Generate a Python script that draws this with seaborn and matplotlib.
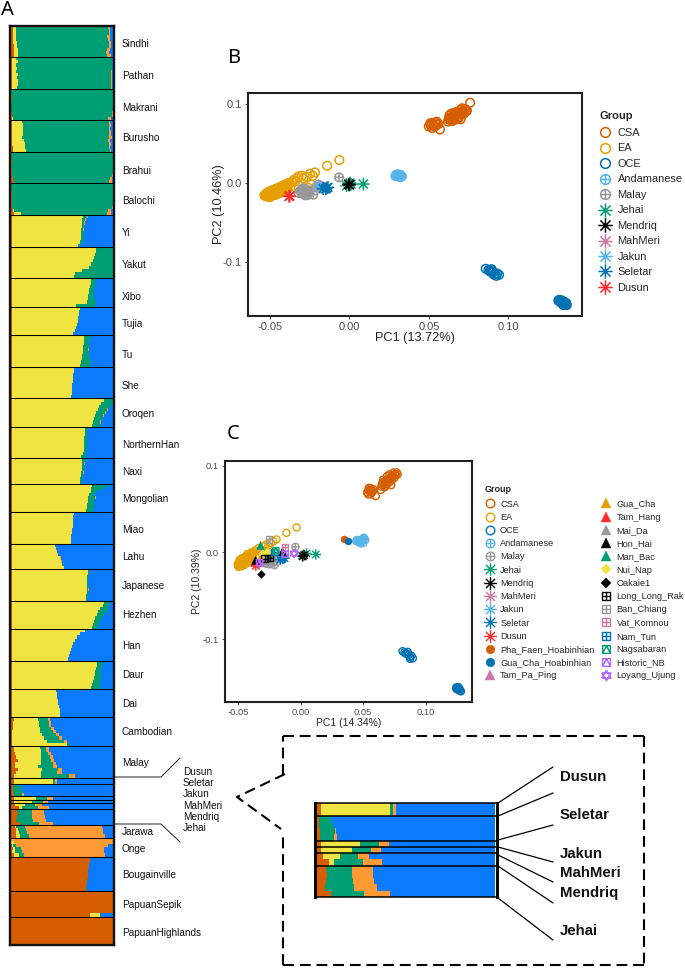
"""Ancestry bars (panel A) and two PCA panels (B, C) with the zoomed Orang Asli inset."""
import numpy as np
import pandas as pd
import matplotlib
matplotlib.use("Agg")
import matplotlib.pyplot as plt
from matplotlib.lines import Line2D
from matplotlib.path import Path
import seaborn as sns

W, H = 685, 968

# ---- panel A, one row per individual: brown, yellow, green, orange (blue is the rest)
sindhi = [[1.5,3,90.5,1.5],[2,2.5,91,1.5],[2,3,91,1],[2,3,89,2.5],[2,3,89.5,2],[2,3.5,90.5,1.5],[2.5,3,90,2],[2.5,3.5,88,2.5],[3,3,87.5,2.5],[3,3.5,87.5,3.5]]
pathan = [[0.5,4,94,0.5],[0.5,5.5,92.5,0.5],[0.5,4.5,93.5,0.5],[0.5,5,93,0.5],[0.5,4.5,93,1],[0.5,6,91.5,1],[0.5,5,92.5,1],[0.5,5.5,91.5,1.5],[1,5,91.5,1.5],[1,4.5,92.5,1]]
makrani = [[0,0,100,0],[0,0,100,0],[0.5,0,99.5,0],[0.5,0,99.5,0],[0,0,100,0],[0,0,100,0],[0,0,100,0],[0.5,0,98.5,1],[0.5,0,98,1],[1,1,93,2.5]]
burusho = [[0.5,10,85.5,1],[0.5,10.5,85,1.5],[0.5,10.5,85,1],[0.5,10.5,85,2],[0.5,10.5,84.5,2.5],[0.5,9.5,85.5,3],[0.5,11.5,83,2],[1,12,83,1.5],[1.5,12,82.5,1],[1.5,13,82.5,0.5]]
brahui = [[0,0,100,0],[0,0,100,0],[0.5,0,99.5,0],[0.5,0,99.5,0],[0,0,100,0],[0.5,0,99.5,0],[0.5,0,99,0.5],[1,0,98,1],[2,0,95,1.5],[3,0,93,2.5]]
balochi = [[0,0,100,0],[0,0,100,0],[0.5,0,99.5,0],[0.5,0,99.5,0],[0.5,0,99.5,0],[0.5,0,99.5,0],[0.5,0,99,0.5],[1,0,97.5,1],[2,1,92,3],[3,6,85,3.5]]
yi = [[0.8,69.5,4.5,0.5],[0.8,69,3,0.5],[0.8,68.6,2.3,0.5],[0.8,68.2,2,0.5],[0.8,68,2,0.5],[0.8,68,2.3,0.5],[0.8,67.6,2.6,0.5],[0.8,67.2,3,0.5],[0.8,67,2.6,0],[0.8,64.4,1.3,0]]
yakut = [[0.8,82.2,17,0],[0.8,82,17.2,0],[0.8,81,18.2,0],[0.8,80,19.2,0],[0.8,79,20.2,0],[0.8,77.5,21.7,0],[0.8,75.5,23.7,0],[0.8,69,30.2,0],[0.8,62,37.2,0],[0.8,61,38.2,0]]
xibo = [[0.5,78,5.5,0],[0.5,77.5,4.5,0],[0.5,77,4.5,0],[0.5,76,5,0],[0.5,75.5,5.5,0],[0.5,75,6,0],[0.5,74.5,6.5,0],[0.5,74,8.5,0],[0.5,63,19,0]]
tujia = [[0.5,66.5,0,0],[0.5,66,0.5,0],[0.5,65.5,0.5,0],[0.5,65,0.5,0],[0.5,64.5,0.5,0],[0.5,64,0.5,0],[0.5,63,0,0],[0.5,62,0,0],[0.5,60.5,0,0]]
tu = [[0.8,71,6,0],[0.8,71,5.5,0],[0.8,70.5,5,0],[0.8,70,5.5,0],[0.8,70,5,0.3],[0.8,69.5,6,0],[0.8,69,6.5,0],[0.8,68.5,7.5,0.5],[0.8,68,9,0.5],[0.8,66.5,10,0]]
she = [[0.3,61,0,0],[0.3,61,0,0],[0.3,60.5,0,0],[0.3,60.5,0,0],[0.3,60,0,0],[0.3,59.5,0,0],[0.3,59,0,0],[0.3,59,0,0],[0.3,59,0,0],[0.3,58.5,0,0]]
oroqen = [[1,90,9,0],[1,87,12,0],[1,85,11,0],[1,84,9,0.5],[1,82.5,9,0.5],[1,81.5,8,0.5],[1,80.5,7.5,0.5],[1,79.5,7,0.5],[1,78,8,0.5]]
northernhan = [[0.5,72,2,0],[0.5,72,2,0],[0.5,71.5,2.5,0],[0.5,71,3,0],[0.5,71,2.5,0],[0.5,71,2.5,0],[0.5,70.5,3,0],[0.5,70.5,2.5,0],[0.5,70,3,0],[0.5,67.5,4,0]]
naxi = [[1,68.5,2.5,0.5],[1,68.5,2,0.5],[1,68,2,0.5],[1,68,2,0],[1,67.5,2,0.5],[1,67.5,2,0],[1,66.5,2,0],[1,66,2,0]]
mongolian = [[0.5,78.5,17,0],[0.5,78,12,0],[0.5,77.5,6,0],[0.5,76,5,0],[0.5,75,7,0.5],[0.5,74.5,6,0],[0.5,74,7,0],[0.5,73.5,7.5,0],[0.5,72.5,7,0]]
miao = [[0.3,61,0,0],[0.3,60.5,0,0],[0.3,60.5,0,0],[0.3,60,0,0],[0.3,60,0,0],[0.3,59.5,0,0],[0.3,59,0,0],[0.3,58.5,0,0],[0.3,58,0,0],[0.3,58,0,0]]
lahu = [[0.3,43,0,0],[0.3,44,0,0],[0.3,45,0,0],[0.3,46,0,0],[0.3,47,0.5,0.5],[0.3,48,0.5,0.5],[0.3,49.5,0.5,0],[0.3,51.5,0,0]]
japanese = [[0.5,74.5,1,0.5],[0.5,74.5,1,0],[0.5,74,1.5,0],[0.5,74,1,0],[0.5,74,1,0],[0.5,73.5,1.5,0],[0.5,73.5,1.5,0.5],[0.5,73.5,1,0],[0.5,73,1.5,0],[0.5,73,1,0]]
hezhen = [[1,90,5.5,0],[1,89,6,0],[1,86,8,0],[1,84,9,0],[1,83,7,0.5],[1,81,7,0],[1,80,6.5,0],[1,79,6.5,0],[1,78.5,6,0]]
han = [[0.5,72,0,0],[0.5,67,0,0],[0.5,64,0,0],[0.5,62,0,0],[0.5,60,0,0],[0.5,59,0,0],[0.5,58,0,0],[0.5,57,0,0],[0.5,56.5,0,0],[0.5,55.5,0,0]]
daur = [[1,83,6,0],[1,83,5,0],[1,82,5,0],[1,81.5,5.5,0],[1,81,6,0],[1,80.5,6.5,0],[1,79,7.5,0],[1,78,9,0],[1,77,9.5,0]]
dai = [[0.3,44,0,0],[0.3,44.5,0,0],[0.3,45,0,0],[0.3,45.5,0,0],[0.3,46,0,0],[0.3,46.5,0,0],[0.3,47,0,0],[0.3,47,0,0],[0.3,47,0,0]]
cambodian = [[2.5,24,9.5,2],[2,25,10,2],[1.5,26,9,2.5],[1.5,26.5,11,2.5],[1,27,13,2.5],[1,29,13.5,3],[1,31,15,3],[1,34,17,3],[1,54,2,0]]
malay = [[2.5,26,6,2.5],[3,26,5,3],[4,25,7,3],[5,24,9,3],[6,23,10,3],[4,25,12,3],[4,22,15,4],[6,24,16,4],[5,24,16,4.5],[3,26,28,6]]
dusun = [[2.6,38.7,1.9,1.5],[2.6,38.7,1.9,1.5]]
seletar = [[1.5,0,7,0],[1.5,0,8,0],[2,0,8.4,0.5],[2.5,0,7.5,2]]
jakun = [[3,21.6,10.6,5.6]]
mahmeri = [[3,17,10.6,5.8]]
mendriq = [[4,9.3,10,6.5],[7,3,16,11]]
jehai = [[5.6,0,14.3,11.7],[6,0,14,12],[5.6,0,15,12],[5,0,16,13],[8.4,0,18.6,14.3]]
jarawa = [[4,1,8,76],[4.5,1.5,8,76],[5,2,8,75],[5,3,9,75]]
onge = [[0,0,0,100],[0,3,0,97],[1,1,3,90],[2,2,5,82],[1,3,6,81],[2.5,5,5,80]]
bougainville = [[77.5,0,0,0],[77,0,0,0],[76.5,0,0,0],[76,0,0,0],[75.5,0,0,0],[75,0,0,0],[75,0,0,0],[74.5,0,0,0],[74,0,0,0],[73.5,0,0,0],[73,0,1,0]]
papuansepik = [[100,0,0,0],[100,0,0,0],[100,0,0,0],[100,0,0,0],[100,0,0,0],[100,0,0,0],[100,0,0,0],[77.5,9.5,0,0]]
papuanhighlands = [[100,0,0,0],[100,0,0,0],[100,0,0,0],[100,0,0,0],[100,0,0,0],[100,0,0,0],[100,0,0,0],[100,0,0,0],[100,0,0,0]]

populations = [sindhi, pathan, makrani, burusho, brahui, balochi, yi, yakut, xibo, tujia, tu, she, oroqen,
               northernhan, naxi, mongolian, miao, lahu, japanese, hezhen, han, daur, dai, cambodian, malay,
               dusun, seletar, jakun, mahmeri, mendriq, jehai, jarawa, onge, bougainville, papuansepik,
               papuanhighlands]
inset_populations = [dusun, seletar, jakun, mahmeri, mendriq, jehai]

cluster_names = ["brown", "yellow", "green", "orange", "blue"]
cluster_colors = ["#D55E00", "#F0E442", "#009E73", "#FF9933", "#0A7BFF"]

pop_labels = ["Sindhi", "Pathan", "Makrani", "Burusho", "Brahui", "Balochi", "Yi", "Yakut", "Xibo", "Tujia", "Tu",
              "She", "Oroqen", "NorthernHan", "Naxi", "Mongolian", "Miao", "Lahu", "Japanese", "Hezhen", "Han",
              "Daur", "Dai", "Cambodian", "Malay", "Jarawa", "Onge", "Bougainville", "PapuanSepik",
              "PapuanHighlands"]
pop_label_y = [44, 76, 108, 138, 171, 201, 233, 265, 297, 324, 355, 386, 414, 445, 472, 499, 530, 557, 586, 615,
               646, 675, 704, 732, 763, 832, 849, 875, 905, 933]
small_labels = ["Dusun", "Seletar", "Jakun", "MahMeri", "Mendriq", "Jehai"]
small_label_y = [772, 783, 794, 806, 817, 828]
inset_label_y = [777, 815, 854, 873, 893, 931]

# ---- panel B points
b_csa_x = [0.050,0.051,0.052,0.053,0.054,0.055,0.056,0.057,0.052,0.054,0.062,0.063,0.064,0.065,0.066,0.067,0.068,0.069,0.070,0.071,0.072,0.073,0.074,0.076,0.063,0.065,0.067,0.069,0.071,0.064,0.066,0.070,0.072,0.0625,0.0645,0.0665,0.0685,0.0705,0.0725,0.0735,0.051,0.053,0.055,0.0635,0.0655,0.0675]
b_csa_y = [0.072,0.074,0.076,0.073,0.077,0.078,0.075,0.068,0.070,0.072,0.078,0.083,0.080,0.085,0.082,0.087,0.084,0.089,0.081,0.091,0.088,0.094,0.092,0.102,0.086,0.079,0.090,0.083,0.095,0.088,0.087,0.093,0.090,0.081,0.083,0.086,0.087,0.09,0.094,0.091,0.076,0.074,0.074,0.08,0.089,0.081]
b_ea_x = [-0.0535,-0.053,-0.0525,-0.052,-0.0515,-0.051,-0.0505,-0.05,-0.0495,-0.049,-0.0485,-0.048,-0.0475,-0.047,-0.0465,-0.046,-0.0455,-0.045,-0.0445,-0.044,-0.0435,-0.043,-0.0425,-0.042,-0.0415,-0.041,-0.04,-0.039,-0.0525,-0.051,-0.0495,-0.048,-0.0465,-0.045,-0.0435,-0.042,-0.0405,-0.05,-0.0485,-0.047,-0.0455,-0.044,-0.0425,-0.052,-0.0505,-0.049,-0.0475,-0.046,-0.0445,-0.043,-0.0415,-0.04,-0.0385,-0.051,-0.0495,-0.048,-0.0465,-0.045,-0.0435,-0.042,-0.0405,-0.039,-0.037,-0.038,-0.036,-0.035,-0.034,-0.033,-0.032,-0.03,-0.029,-0.027,-0.0248,-0.023,-0.0216,-0.026,-0.024,-0.021,-0.014,-0.0063]
b_ea_y = [-0.0157,-0.016,-0.0145,-0.0165,-0.014,-0.017,-0.013,-0.0155,-0.012,-0.0145,-0.0115,-0.014,-0.011,-0.013,-0.0105,-0.012,-0.0095,-0.0115,-0.0085,-0.011,-0.0075,-0.01,-0.007,-0.0085,-0.0055,-0.0075,-0.005,-0.004,-0.017,-0.0155,-0.015,-0.0125,-0.0125,-0.0095,-0.01,-0.0055,-0.004,-0.018,-0.016,-0.015,-0.0135,-0.0125,-0.0115,-0.0125,-0.011,-0.0095,-0.0085,-0.007,-0.006,-0.0045,-0.003,-0.002,0.0,-0.0175,-0.0165,-0.0155,-0.015,-0.0135,-0.012,-0.0105,-0.0085,-0.0075,-0.0045,-0.001,0.001,0.004,0.002,0.006,0.0085,0.0093,0.006,0.008,0.0118,0.009,0.0135,-0.006,-0.002,-0.005,0.022,0.0292]
b_oce_x = [0.0858,0.0875,0.0885,0.089,0.09,0.0905,0.0917,0.093,0.0942,0.0925,0.0895,0.0885,0.091,0.1315,0.1326,0.1335,0.134,0.1347,0.1355,0.136,0.1368,0.133,0.135,0.132,0.1345,0.1365,0.1335]
b_oce_y = [-0.109,-0.1105,-0.1108,-0.1125,-0.112,-0.1135,-0.1154,-0.115,-0.1167,-0.118,-0.1095,-0.1125,-0.1165,-0.1495,-0.1501,-0.1505,-0.1525,-0.1522,-0.153,-0.1545,-0.1552,-0.152,-0.1505,-0.1485,-0.155,-0.1525,-0.149]
b_andamanese_x = [0.029,0.0295,0.03,0.0305,0.031,0.0315,0.032,0.0325,0.033,0.0305,0.032]
b_andamanese_y = [0.009,0.0105,0.0095,0.011,0.0105,0.0095,0.0105,0.009,0.0085,0.0085,0.0075]
b_malay_x = [-0.032,-0.031,-0.03,-0.029,-0.0285,-0.028,-0.0275,-0.027,-0.0265,-0.026,-0.025,-0.0227,-0.0195,-0.0065,-0.0285,-0.0265,-0.03,-0.0285,-0.027,-0.0255,-0.028,-0.029]
b_malay_y = [-0.0125,-0.01,-0.0125,-0.0118,-0.009,-0.0135,-0.011,-0.0145,-0.0095,-0.013,-0.0115,-0.0148,-0.002,0.0072,-0.0075,-0.0155,-0.0085,-0.0135,-0.0115,-0.0095,-0.0155,-0.0065]
b_jehai_x = [0.0088,-0.0017,0.0004,0.001]
b_jehai_y = [-0.0013,-0.0034,0.0,-0.0015]
b_mendriq_x = [0.0,-0.0005]
b_mendriq_y = [-0.0025,-0.0015]
b_mahmeri_x = [-0.0185]
b_mahmeri_y = [-0.0045]
b_jakun_x = [-0.0195]
b_jakun_y = [-0.0035]
b_seletar_x = [-0.0143,-0.0165,-0.0135,-0.015]
b_seletar_y = [-0.0063,-0.0072,-0.0055,-0.0075]
b_dusun_x = [-0.038,-0.0375]
b_dusun_y = [-0.017,-0.0165]

# ---- panel C points
c_csa_x = [0.053,0.054,0.055,0.056,0.057,0.058,0.054,0.056,0.060,0.064,0.065,0.066,0.067,0.068,0.069,0.070,0.071,0.072,0.073,0.074,0.075,0.0767,0.0724,0.066,0.069,0.071,0.074,0.076,0.0645,0.0655,0.0675,0.0685,0.0705,0.0725,0.0735,0.0755,0.0775,0.0545,0.0565,0.0575]
c_csa_y = [0.069,0.072,0.0707,0.074,0.069,0.073,0.067,0.067,0.065,0.072,0.078,0.0796,0.075,0.082,0.079,0.085,0.081,0.087,0.084,0.089,0.086,0.0923,0.0776,0.084,0.088,0.090,0.092,0.089,0.076,0.081,0.079,0.077,0.083,0.084,0.087,0.09,0.09,0.0745,0.0715,0.071]
c_ea_x = [-0.0505,-0.05,-0.0495,-0.049,-0.0485,-0.048,-0.0475,-0.047,-0.0465,-0.046,-0.0455,-0.045,-0.0445,-0.044,-0.0435,-0.043,-0.0425,-0.042,-0.0415,-0.041,-0.04,-0.039,-0.038,-0.049,-0.0475,-0.046,-0.0445,-0.043,-0.0415,-0.04,-0.049,-0.0475,-0.046,-0.0445,-0.043,-0.0415,-0.04,-0.0385,-0.037,-0.05,-0.0485,-0.047,-0.0455,-0.044,-0.0425,-0.041,-0.0395,-0.038,-0.036,-0.036,-0.034,-0.032,-0.03,-0.028,-0.026,-0.024,-0.022,-0.0195,-0.0115,-0.0034]
c_ea_y = [-0.0135,-0.0155,-0.012,-0.0145,-0.011,-0.0135,-0.0095,-0.0125,-0.008,-0.0115,-0.0065,-0.0105,-0.0055,-0.009,-0.005,-0.0075,-0.004,-0.0065,-0.003,-0.0055,-0.002,-0.004,-0.003,-0.0105,-0.007,-0.0135,-0.0085,-0.002,-0.0085,0.0,-0.0085,-0.0075,-0.0065,-0.005,-0.004,-0.0025,-0.001,0.0,0.002,-0.0165,-0.016,-0.0155,-0.0145,-0.013,-0.012,-0.0105,-0.0085,-0.0075,-0.0055,0.002,0.005,0.003,0.007,0.009,0.008,0.011,0.013,0.015,0.0226,0.0288]
c_oce_x = [0.0815,0.083,0.085,0.0855,0.0865,0.0873,0.0885,0.0897,0.084,0.0875,0.1245,0.1252,0.126,0.1265,0.127,0.1275,0.1282,0.1255,0.1265,0.1245]
c_oce_y = [-0.1138,-0.115,-0.1166,-0.1145,-0.118,-0.1204,-0.119,-0.1219,-0.1165,-0.1225,-0.1555,-0.1569,-0.155,-0.158,-0.157,-0.159,-0.16,-0.158,-0.156,-0.157]
c_andamanese_x = [0.0445,0.045,0.046,0.047,0.048,0.049,0.05,0.0505,0.0515,0.048,0.05]
c_andamanese_y = [0.013,0.0145,0.0125,0.014,0.0125,0.0135,0.0155,0.017,0.0145,0.0105,0.011]
c_malay_x = [-0.031,-0.029,-0.027,-0.026,-0.025,-0.0235,-0.022,-0.021,-0.026,-0.0043,-0.028,-0.0245,-0.023]
c_malay_y = [-0.0105,-0.009,-0.012,-0.0075,-0.0115,-0.009,-0.0115,-0.0146,-0.0135,0.0065,-0.013,-0.0135,-0.0065]
c_jehai_x = [0.012,0.0045,0.001]
c_jehai_y = [-0.0023,-0.0012,-0.0035]
c_mendriq_x = [0.0027,0.0015]
c_mendriq_y = [-0.0031,-0.0045]
c_mahmeri_x = [-0.0335]
c_mahmeri_y = [-0.0125]
c_jakun_x = [-0.016]
c_jakun_y = [-0.0075]
c_seletar_x = [-0.0147,-0.0165,-0.013,-0.015]
c_seletar_y = [-0.007,-0.0085,-0.0065,-0.0055]
c_dusun_x = [-0.036]
c_dusun_y = [-0.0154]
c_phafaen_x = [0.0345]
c_phafaen_y = [0.015]
c_guachahoa_x = [0.038]
c_guachahoa_y = [0.0138]
c_tampaping_x = [-0.034]
c_tampaping_y = [-0.011]
c_guacha_x = [-0.031]
c_guacha_y = [-0.003]
c_tamhang_x = [-0.0365]
c_tamhang_y = [-0.0115]
c_maida_x = [-0.0235]
c_maida_y = [0.0]
c_honhai_x = [-0.0147,-0.037]
c_honhai_y = [0.0015,-0.009]
c_manbac_x = [-0.033]
c_manbac_y = [0.0084]
c_nuinap_x = [-0.030,-0.027]
c_nuinap_y = [-0.0012,0.001]
c_oakaie_x = [-0.032]
c_oakaie_y = [-0.0247]
c_longlongrak_x = [-0.029,-0.0245]
c_longlongrak_y = [-0.007,-0.006]
c_banchiang_x = [-0.0254]
c_banchiang_y = [0.015]
c_vatkomnou_x = [-0.0128]
c_vatkomnou_y = [0.0058]
c_namtun_x = [-0.0216]
c_namtun_y = [0.0007]
c_nagsabaran_x = [-0.02]
c_nagsabaran_y = [0.002]
c_historic_x = [-0.0125,-0.033]
c_historic_y = [-0.002,-0.012]
c_loyang_x = [-0.0054]
c_loyang_y = [-0.0012]


def lines(*segments):
    verts, codes = [], []
    for seg in segments:
        verts += list(seg)
        codes += [Path.MOVETO] + [Path.LINETO] * (len(seg) - 1)
    return Path(verts, codes)


plus_lines = lines([(-1, 0), (1, 0)], [(0, -1), (0, 1)])
d = 0.707
cross_lines = lines([(-d, -d), (d, d)], [(-d, d), (d, -d)])
square = lines([(-1, -1), (1, -1), (1, 1), (-1, 1), (-1, -1)])
circle_plus = Path.make_compound_path(Path.unit_circle(), plus_lines)
star = Path.make_compound_path(plus_lines, cross_lines)
square_plus = Path.make_compound_path(square, plus_lines)
square_tri = Path.make_compound_path(square, lines([(-1, -1), (0, 1), (1, -1)]))
david = lines([(-0.87, -0.5), (0.87, -0.5), (0, 1), (-0.87, -0.5)], [(-0.87, 0.5), (0.87, 0.5), (0, -1), (-0.87, 0.5)])
circle = Path.unit_circle()

# name, colour, marker, open?, size factor
b_groups = [
    ("CSA", "#D55E00", circle, True, 1.0, b_csa_x, b_csa_y),
    ("EA", "#E69F00", circle, True, 1.0, b_ea_x, b_ea_y),
    ("OCE", "#0072B2", circle, True, 1.0, b_oce_x, b_oce_y),
    ("Andamanese", "#56B4E9", circle_plus, True, 1.0, b_andamanese_x, b_andamanese_y),
    ("Malay", "#999999", circle_plus, True, 1.0, b_malay_x, b_malay_y),
    ("Jehai", "#009E73", star, True, 2.2, b_jehai_x, b_jehai_y),
    ("Mendriq", "#000000", star, True, 2.2, b_mendriq_x, b_mendriq_y),
    ("MahMeri", "#CC79A7", star, True, 2.2, b_mahmeri_x, b_mahmeri_y),
    ("Jakun", "#56B4E9", star, True, 2.2, b_jakun_x, b_jakun_y),
    ("Seletar", "#0072B2", star, True, 2.2, b_seletar_x, b_seletar_y),
    ("Dusun", "#FF2A2A", star, True, 2.2, b_dusun_x, b_dusun_y),
]
c_groups = [
    ("CSA", "#D55E00", circle, True, 1.0, c_csa_x, c_csa_y),
    ("EA", "#E69F00", circle, True, 1.0, c_ea_x, c_ea_y),
    ("OCE", "#0072B2", circle, True, 1.0, c_oce_x, c_oce_y),
    ("Andamanese", "#56B4E9", circle_plus, True, 1.0, c_andamanese_x, c_andamanese_y),
    ("Malay", "#999999", circle_plus, True, 1.0, c_malay_x, c_malay_y),
    ("Jehai", "#009E73", star, True, 2.2, c_jehai_x, c_jehai_y),
    ("Mendriq", "#000000", star, True, 2.2, c_mendriq_x, c_mendriq_y),
    ("MahMeri", "#CC79A7", star, True, 2.2, c_mahmeri_x, c_mahmeri_y),
    ("Jakun", "#56B4E9", star, True, 2.2, c_jakun_x, c_jakun_y),
    ("Seletar", "#0072B2", star, True, 2.2, c_seletar_x, c_seletar_y),
    ("Dusun", "#FF2A2A", star, True, 2.2, c_dusun_x, c_dusun_y),
    ("Pha_Faen_Hoabinhian", "#D55E00", "o", False, 1.0, c_phafaen_x, c_phafaen_y),
    ("Gua_Cha_Hoabinhian", "#0072B2", "o", False, 1.0, c_guachahoa_x, c_guachahoa_y),
    ("Tam_Pa_Ping", "#CC79A7", "^", False, 1.3, c_tampaping_x, c_tampaping_y),
    ("Gua_Cha", "#E69F00", "^", False, 1.3, c_guacha_x, c_guacha_y),
    ("Tam_Hang", "#FF2A2A", "^", False, 1.3, c_tamhang_x, c_tamhang_y),
    ("Mai_Da", "#999999", "^", False, 1.3, c_maida_x, c_maida_y),
    ("Hon_Hai", "#000000", "^", False, 1.3, c_honhai_x, c_honhai_y),
    ("Man_Bac", "#009E73", "^", False, 1.3, c_manbac_x, c_manbac_y),
    ("Nui_Nap", "#F0E442", "D", False, 0.6, c_nuinap_x, c_nuinap_y),
    ("Oakaie1", "#000000", "D", False, 0.6, c_oakaie_x, c_oakaie_y),
    ("Long_Long_Rak", "#000000", square_plus, True, 0.8, c_longlongrak_x, c_longlongrak_y),
    ("Ban_Chiang", "#999999", square_plus, True, 0.8, c_banchiang_x, c_banchiang_y),
    ("Vat_Komnou", "#CC79A7", square_plus, True, 0.8, c_vatkomnou_x, c_vatkomnou_y),
    ("Nam_Tun", "#0072B2", square_plus, True, 0.8, c_namtun_x, c_namtun_y),
    ("Nagsabaran", "#009E73", square_tri, True, 0.8, c_nagsabaran_x, c_nagsabaran_y),
    ("Historic_NB", "#B266FF", square_tri, True, 0.8, c_historic_x, c_historic_y),
    ("Loyang_Ujung", "#B266FF", david, True, 1.5, c_loyang_x, c_loyang_y),
]

sns.set_theme(style="ticks")
plt.rcParams["font.family"] = ["Liberation Sans", "DejaVu Sans"]
fig = plt.figure(figsize=(W / 100, H / 100), dpi=100)


def px_axes(left, top, right, bottom):
    return fig.add_axes([left / W, 1 - bottom / H, (right - left) / W, (bottom - top) / H])


def draw_structure(ax, groups, sep_lw, xpad):
    rows = []
    idx = 0
    seps = []
    for pop in groups:
        for row in pop:
            for name, val in zip(cluster_names, list(row) + [100 - sum(row)]):
                rows.append({"row": idx, "cluster": name, "share": val})
            idx += 1
        seps.append(idx - 0.5)
    df = pd.DataFrame(rows)
    # seaborn stacks the last hue first, so reverse to get brown on the left
    sns.histplot(data=df, y="row", weights="share", hue="cluster", hue_order=cluster_names[::-1],
                 palette=dict(zip(cluster_names, cluster_colors)), multiple="stack", discrete=True,
                 alpha=1, linewidth=0, antialiased=False, legend=False, ax=ax)
    ax.hlines(seps[:-1], -xpad, 100 + xpad, color="black", lw=sep_lw)
    ax.set_xlim(-xpad, 100 + xpad)
    ax.set_ylim(idx - 0.5, -0.5)
    ax.set(xticks=[], yticks=[], xlabel="", ylabel="")


def draw_pca(ax, groups, base_s, lw):
    for name, col, marker, is_open, size, x, y in groups:
        sns.scatterplot(x=x, y=y, ax=ax, marker=marker, s=base_s * size, color=col, edgecolor=col,
                        linewidth=lw if is_open else 0.3, legend=False, clip_on=False)
        if is_open:
            ax.collections[-1].set_facecolor("none")


def group_handles(groups, base_ms, lw):
    out = []
    for name, col, marker, is_open, size, x, y in groups:
        out.append(Line2D([], [], linestyle="none", marker=marker, markersize=base_ms * np.sqrt(size),
                          markerfacecolor="none" if is_open else col, markeredgecolor=col,
                          markeredgewidth=lw if is_open else 0.3, label=name))
    return out


# panel A
ax_a = px_axes(10.2, 25.5, 114.3, 945)
draw_structure(ax_a, populations, 0.75, 1.18)
for s in ax_a.spines.values():
    s.set_linewidth(1.7)
    s.set_color("#111111")

# inset
ax_i = px_axes(314.5, 803, 496.5, 897)
draw_structure(ax_i, inset_populations, 1.1, 0.84)
for name, s in ax_i.spines.items():
    s.set_linewidth(2.1 if name in ("left", "right") else 1.1)
    s.set_color("black")

# panel B
ax_b = px_axes(248, 93, 582, 316)
draw_pca(ax_b, b_groups, 38, 1.1)
ax_b.set_xlim(-0.0638, 0.1464)
ax_b.set_ylim(-0.169, 0.1144)
ax_b.set_xticks([-0.05, 0, 0.05, 0.10], ["-0.05", "0.00", "0.05", "0.10"])
ax_b.set_yticks([-0.1, 0, 0.1], ["-0.1", "0.0", "0.1"])
ax_b.set_xlabel("PC1 (13.72%)", fontsize=9.2, labelpad=0)
ax_b.set_ylabel("PC2 (10.46%)", fontsize=9.2, labelpad=-2)

# panel C
ax_c = px_axes(225, 461, 472.3, 701.5)
draw_pca(ax_c, c_groups, 26, 1.0)
ax_c.set_xlim(-0.0607, 0.1373)
ax_c.set_ylim(-0.1717, 0.1054)
ax_c.set_xticks([-0.05, 0, 0.05, 0.10], ["-0.05", "0.00", "0.05", "0.10"])
ax_c.set_yticks([-0.1, 0, 0.1], ["-0.1", "0.0", "0.1"])
ax_c.set_xlabel("PC1 (14.34%)", fontsize=7.5, labelpad=1)
ax_c.set_ylabel("PC2 (10.39%)", fontsize=7.5, labelpad=0)

for ax, fs in ((ax_b, 8.0), (ax_c, 6.8)):
    ax.tick_params(labelsize=fs, colors="#4D4D4D", length=2.5, width=0.7, pad=2)
    for s in ax.spines.values():
        s.set_visible(True)
        s.set_linewidth(1.5)
        s.set_color("#222222")

# legends
leg_b = ax_b.legend(handles=group_handles(b_groups, 7, 1.1), loc="upper left", bbox_to_anchor=(600 / W, 1 - 111 / H),
                    bbox_transform=fig.transFigure, frameon=False, title="Group", fontsize=7.9,
                    title_fontproperties={"weight": "bold", "size": 8}, labelspacing=0.5, handletextpad=0.6,
                    handlelength=1.0, borderpad=0, borderaxespad=0, alignment="left")
leg_b._legend_box.sep = 5
leg_c = ax_c.legend(handles=group_handles(c_groups, 6.2, 1.0), loc="upper left", bbox_to_anchor=(485 / W, 1 - 485 / H),
                    bbox_transform=fig.transFigure, frameon=False, title="Group", ncol=2, fontsize=6.6,
                    title_fontproperties={"weight": "bold", "size": 6.5}, labelspacing=0.46, handletextpad=0.65,
                    handlelength=1.0, columnspacing=0.75, borderpad=0, borderaxespad=0, alignment="left")
leg_c._legend_box.sep = 4

# overlay in pixel coordinates for labels and connectors
ov = fig.add_axes([0, 0, 1, 1], zorder=10)
ov.set_xlim(0, W)
ov.set_ylim(H, 0)
ov.axis("off")
ov.patch.set_alpha(0)

for txt, yy in zip(pop_labels, pop_label_y):
    ov.text(122, yy, txt, fontsize=7.2, va="center", ha="left", color="#111111")
for txt, yy in zip(small_labels, small_label_y):
    ov.text(183, yy, txt, fontsize=7.2, va="center", ha="left", color="#111111")
for txt, yy in zip(small_labels, inset_label_y):
    ov.text(560, yy, txt, fontsize=10.8, fontweight="bold", va="center", ha="left", color="#111111")

for txt, xx, yy in (("A", 1, 10), ("B", 228, 58), ("C", 227, 434)):
    ov.text(xx, yy, txt, fontsize=14.5, family="Noto Sans", va="center", ha="left", color="black")

ov.plot([115, 161, 180], [777, 777, 758], color="#222222", lw=0.7)
ov.plot([115, 161, 180], [824, 824, 842], color="#222222", lw=0.7)

inset_lines = [(803, 767), (816, 793), (840, 825), (847, 862), (855, 882), (866, 903), (898, 940)]
for y0, y1 in inset_lines:
    ov.plot([498, 553], [y0, y1], color="black", lw=0.9)

dash = dict(color="black", lw=1.5, linestyle=(0, (5.2, 2.8)))
ov.plot([283, 283], [775, 736], **dash)
ov.plot([283, 644], [736, 736], **dash)
ov.plot([644, 644], [736, 965], **dash)
ov.plot([644, 283], [965, 965], **dash)
ov.plot([283, 283], [965, 834], **dash)
ov.plot([285, 237, 281], [774, 797, 829], **dash)

fig.savefig("out.png", dpi=100)
